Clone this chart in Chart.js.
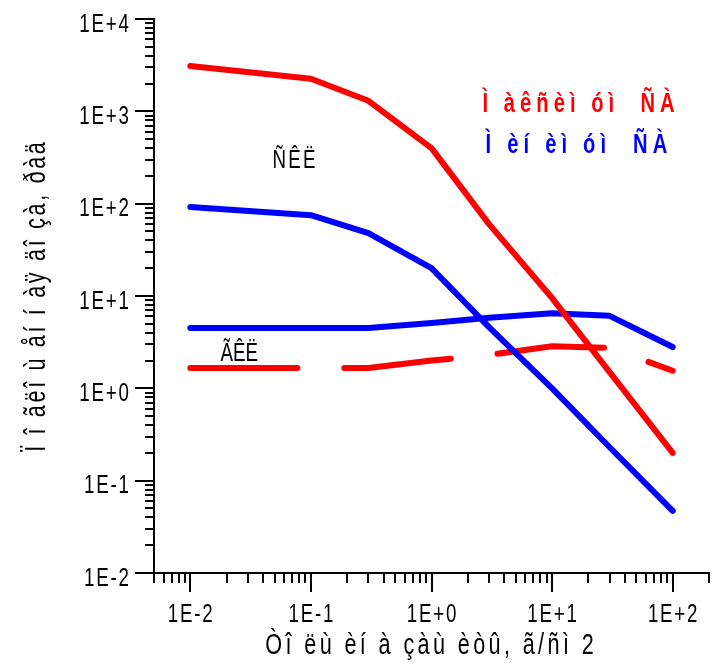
<!DOCTYPE html>
<html>
<head>
<meta charset="utf-8">
<script src="https://cdn.jsdelivr.net/npm/chart.js@4.4.1/dist/chart.umd.min.js"></script>
<style>
  html, body { margin: 0; padding: 0; background: #fff; }
  #wrap { width: 712px; height: 670px; }
</style>
</head>
<body>
<div id="wrap"><canvas id="c" width="712" height="670"></canvas></div>
<script>
// thickness, g/cm2
var thickness = [0.01, 0.1, 0.3, 1, 3, 10, 30, 100];
// max SA, SKL (red solid)
var maxSKL = [3100, 2250, 1300, 400, 60, 9.5, 1.5, 0.2];
// min SA, SKL (blue, steep)
var minSKL = [92, 75, 48, 20, 4.6, 1.0, 0.23, 0.047];
// min SA, GKL (blue, flat)
var minGKL = [4.5, 4.5, 4.5, 5.1, 5.8, 6.5, 6.1, 2.8];
// max SA, GKL (red dashed)
var maxGKL = [1.66, 1.66, 1.66, 2.0, 2.3, 2.85, 2.75, 1.55];

var xMajor = [0.01, 0.1, 1, 10, 100];
var xLabels = ['1E-2', '1E-1', '1E+0', '1E+1', '1E+2'];
var yMajor = [0.01, 0.1, 1, 10, 100, 1000, 10000];
var yLabels = ['1E-2', '1E-1', '1E+0', '1E+1', '1E+2', '1E+3', '1E+4'];

var xTitle = 'Òî ëù èí à çàù èòû, ã/ñì 2';
var yTitle = 'Ï î ãëî ù åí í àÿ äî çà, ðàä';
var legendMax = 'Ì àêñèì óì  ÑÀ';
var legendMin = 'Ì èí èì óì  ÑÀ';
var labelSKL = 'ÑÊË';
var labelGKL = 'ÃÊË';

var FONT = "'Liberation Sans', Arial, sans-serif";
var SX = 0.72; // narrow look
var RED = '#ff0000';
var BLUE = '#0000ff';

function pts(ys) {
  return thickness.map(function (t, i) { return { x: t, y: ys[i] }; });
}

function buildLogTicks(scale) {
  var out = [];
  var lo = Math.floor(Math.log10(scale.min));
  var hi = Math.ceil(Math.log10(scale.max));
  for (var e = lo; e <= hi; e++) {
    for (var m = 1; m <= 9; m++) {
      var v = m * Math.pow(10, e);
      if (v >= scale.min * 0.999 && v <= scale.max * 1.001) out.push({ value: v, major: m === 1 });
    }
  }
  scale.ticks = out;
}

function drawText(ctx, text, x, y, o) {
  ctx.save();
  ctx.font = (o.bold ? 'bold ' : '') + o.size + 'px ' + FONT;
  ctx.fillStyle = o.color || '#000';
  var sp = o.spacing || 0;
  ctx.letterSpacing = sp + 'px';
  ctx.textBaseline = 'alphabetic';
  ctx.textAlign = 'left';
  ctx.translate(x, y);
  if (o.rotate) ctx.rotate(o.rotate);
  ctx.scale(SX, 1);
  var w = ctx.measureText(text).width - sp;
  var dx = o.align === 'center' ? -w / 2 : (o.align === 'right' ? -w : 0);
  ctx.fillText(text, dx, 0);
  ctx.restore();
}

var tickMarks = {
  id: 'tickMarks',
  afterDraw: function (chart) {
    var ctx = chart.ctx, a = chart.chartArea;
    var sx = chart.scales.x, sy = chart.scales.y;
    ctx.save();
    ctx.strokeStyle = '#000';
    ctx.lineWidth = 2;
    ctx.beginPath();
    sx.ticks.forEach(function (t) {
      var p = Math.round(sx.getPixelForValue(t.value));
      ctx.moveTo(p, a.bottom);
      ctx.lineTo(p, a.bottom + (t.major ? 19 : 10));
    });
    sy.ticks.forEach(function (t) {
      var p = Math.round(sy.getPixelForValue(t.value));
      ctx.moveTo(a.left, p);
      ctx.lineTo(a.left - (t.major ? 19 : 9), p);
    });
    ctx.stroke();
    ctx.restore();

    xMajor.forEach(function (v, i) {
      drawText(ctx, xLabels[i], sx.getPixelForValue(v), a.bottom + 49, { size: 26, spacing: 2.5, align: 'center' });
    });
    yMajor.forEach(function (v, i) {
      drawText(ctx, yLabels[i], a.left - 25, sy.getPixelForValue(v) + 12.5, { size: 26, spacing: 2.5, align: 'right' });
    });
  }
};

var texts = {
  id: 'texts',
  afterDraw: function (chart) {
    var ctx = chart.ctx, a = chart.chartArea;
    var sx = chart.scales.x, sy = chart.scales.y;
    function at(x, y) { return [sx.getPixelForValue(x), sy.getPixelForValue(y)]; }

    var p = at(2.65, 985);
    drawText(ctx, legendMax, p[0], p[1], { size: 28, bold: true, color: RED, spacing: 7.0 });
    p = at(2.81, 354);
    drawText(ctx, legendMin, p[0], p[1], { size: 28, bold: true, color: BLUE, spacing: 7.2 });

    p = at(0.048, 243);
    drawText(ctx, labelSKL, p[0], p[1], { size: 26, spacing: 3.1 });
    p = at(0.0178, 1.98);
    drawText(ctx, labelGKL, p[0], p[1], { size: 26 });

    drawText(ctx, xTitle, (a.left + a.right) / 2 - 2, a.bottom + 81, { size: 30, spacing: 4.7, align: 'center' });
    drawText(ctx, yTitle, 45, (a.top + a.bottom) / 2 + 1, { size: 30, spacing: 3.7, align: 'center', rotate: -Math.PI / 2 });
  }
};

function lineStyle(color, extra) {
  var ds = {
    borderColor: color,
    backgroundColor: color,
    borderWidth: 6,
    borderCapStyle: 'round',
    borderJoinStyle: 'round',
    pointRadius: 0,
    fill: false,
    tension: 0
  };
  for (var k in extra) ds[k] = extra[k];
  return ds;
}

function noPad(s) {
  s.paddingTop = 0; s.paddingBottom = 0; s.paddingLeft = 0; s.paddingRight = 0;
}

new Chart(document.getElementById('c').getContext('2d'), {
  type: 'line',
  data: {
    datasets: [
      lineStyle(RED, { label: 'max SKL', data: pts(maxSKL) }),
      lineStyle(BLUE, { label: 'min SKL', data: pts(minSKL) }),
      lineStyle(BLUE, { label: 'min GKL', data: pts(minGKL) }),
      lineStyle(RED, { label: 'max GKL', data: pts(maxGKL), borderDash: [107, 47] })
    ]
  },
  options: {
    responsive: false,
    animation: false,
    events: [],
    layout: { padding: { top: 19, right: 3, left: 0, bottom: 0 } },
    plugins: { legend: { display: false }, tooltip: { enabled: false } },
    scales: {
      x: {
        type: 'logarithmic',
        position: 'bottom',
        min: 0.005,
        max: 200,
        grid: { display: false, drawTicks: false },
        border: { display: true, color: '#000', width: 2 },
        afterBuildTicks: buildLogTicks,
        afterFit: function (s) { s.height = 97; noPad(s); },
        ticks: { display: false, autoSkip: false }
      },
      y: {
        type: 'logarithmic',
        position: 'left',
        min: 0.01,
        max: 10000,
        grid: { display: false, drawTicks: false },
        border: { display: true, color: '#000', width: 2 },
        afterBuildTicks: buildLogTicks,
        afterFit: function (s) { s.width = 154; noPad(s); },
        ticks: { display: false, autoSkip: false }
      }
    }
  },
  plugins: [tickMarks, texts]
});
</script>
</body>
</html>
